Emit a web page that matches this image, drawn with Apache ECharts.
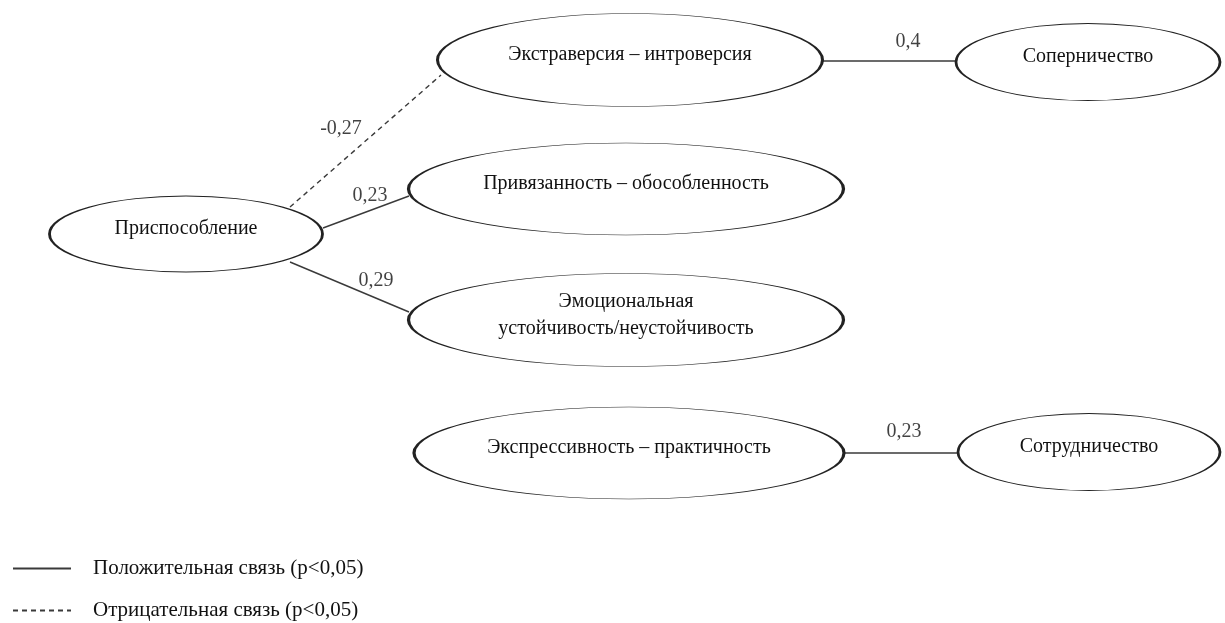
<!DOCTYPE html>
<html>
<head>
<meta charset="utf-8">
<script src="https://cdn.jsdelivr.net/npm/echarts@6/dist/echarts.min.js"></script>
<style>
html,body{margin:0;padding:0;background:#fff;}
#chart{width:1225px;height:623px;}
</style>
</head>
<body>
<div id="chart"></div>
<script>
// Nodes (ellipses)
const nodeNames = ['Приспособление', 'Экстраверсия – интроверсия', 'Соперничество', 'Привязанность – обособленность', 'Эмоциональная\nустойчивость/неустойчивость', 'Экспрессивность – практичность', 'Сотрудничество'];
const nodeX = [186, 630, 1088, 626, 626, 629, 1089];
const nodeY = [234, 60, 62, 189, 320, 453, 452];
const nodeW = [273, 385, 264, 435, 435, 430, 262];
const nodeH = [76, 93, 77, 92, 93, 92, 77];

// Edges (connections between ellipses)
const edgeStart = [[290, 207], [323, 228], [290, 262], [822, 61], [844, 453]];
const edgeEnd = [[441, 75], [409, 196], [409, 312], [956, 61], [958, 453]];
const edgeValues = [-0.27, 0.23, 0.29, 0.4, 0.23];
const edgeLabelPos = [[341, 129], [370, 196], [376, 281], [908, 42], [904, 432]];

const legendNames = ['Положительная связь (p<0,05)', 'Отрицательная связь (p<0,05)'];

const FONT = 'Liberation Serif';
const fmt = v => String(v).replace('.', ',');

const series = [];
edgeValues.forEach((v, i) => {
  const neg = v < 0;
  series.push({
    type: 'line',
    name: neg ? legendNames[1] : legendNames[0],
    data: [edgeStart[i], edgeEnd[i]],
    symbol: 'none',
    silent: true,
    z: 1,
    itemStyle: { color: '#3a3a3a' },
    lineStyle: { color: '#3a3a3a', width: 1.4, type: neg ? [5, 4] : 'solid' }
  });
});

series.push({
  type: 'scatter',
  name: 'nodes',
  z: 5,
  silent: true,
  data: nodeNames.map((n, i) => ({
    name: n,
    value: [nodeX[i], nodeY[i]],
    symbolSize: [nodeW[i], nodeH[i]]
  })),
  symbol: 'circle',
  itemStyle: { color: '#fff', borderColor: '#222', borderWidth: 1.5, opacity: 1 },
  label: {
    show: true,
    position: 'inside',
    formatter: p => p.name,
    fontFamily: FONT,
    fontSize: 20,
    color: '#111',
    lineHeight: 27,
    offset: [0, -5]
  }
});

series.push({
  type: 'scatter',
  name: 'edgeLabels',
  z: 6,
  silent: true,
  symbolSize: 0,
  data: edgeValues.map((v, i) => ({ value: edgeLabelPos[i], name: fmt(v) })),
  label: {
    show: true,
    position: 'inside',
    formatter: p => p.name,
    fontFamily: FONT,
    fontSize: 20,
    color: '#111'
  }
});

const legendCommon = {
  orient: 'vertical',
  left: 12,
  padding: 0,
  itemWidth: 58,
  itemHeight: 14,
  selectedMode: false,
  itemStyle: { opacity: 0 },
  textStyle: { fontFamily: FONT, fontSize: 21, color: '#111', padding: [0, 0, 0, 17] }
};

const chart = echarts.init(document.getElementById('chart'));
chart.setOption({
  animation: false,
  backgroundColor: '#fff',
  grid: { left: 0, right: 0, top: 0, bottom: 0 },
  xAxis: { type: 'value', min: 0, max: 1225, show: false },
  yAxis: { type: 'value', min: 0, max: 623, inverse: true, show: false },
  legend: [
    Object.assign({}, legendCommon, { data: [legendNames[0]], top: 558 }),
    Object.assign({}, legendCommon, { data: [legendNames[1]], top: 600 })
  ],
  series: series
});
</script>
</body>
</html>
